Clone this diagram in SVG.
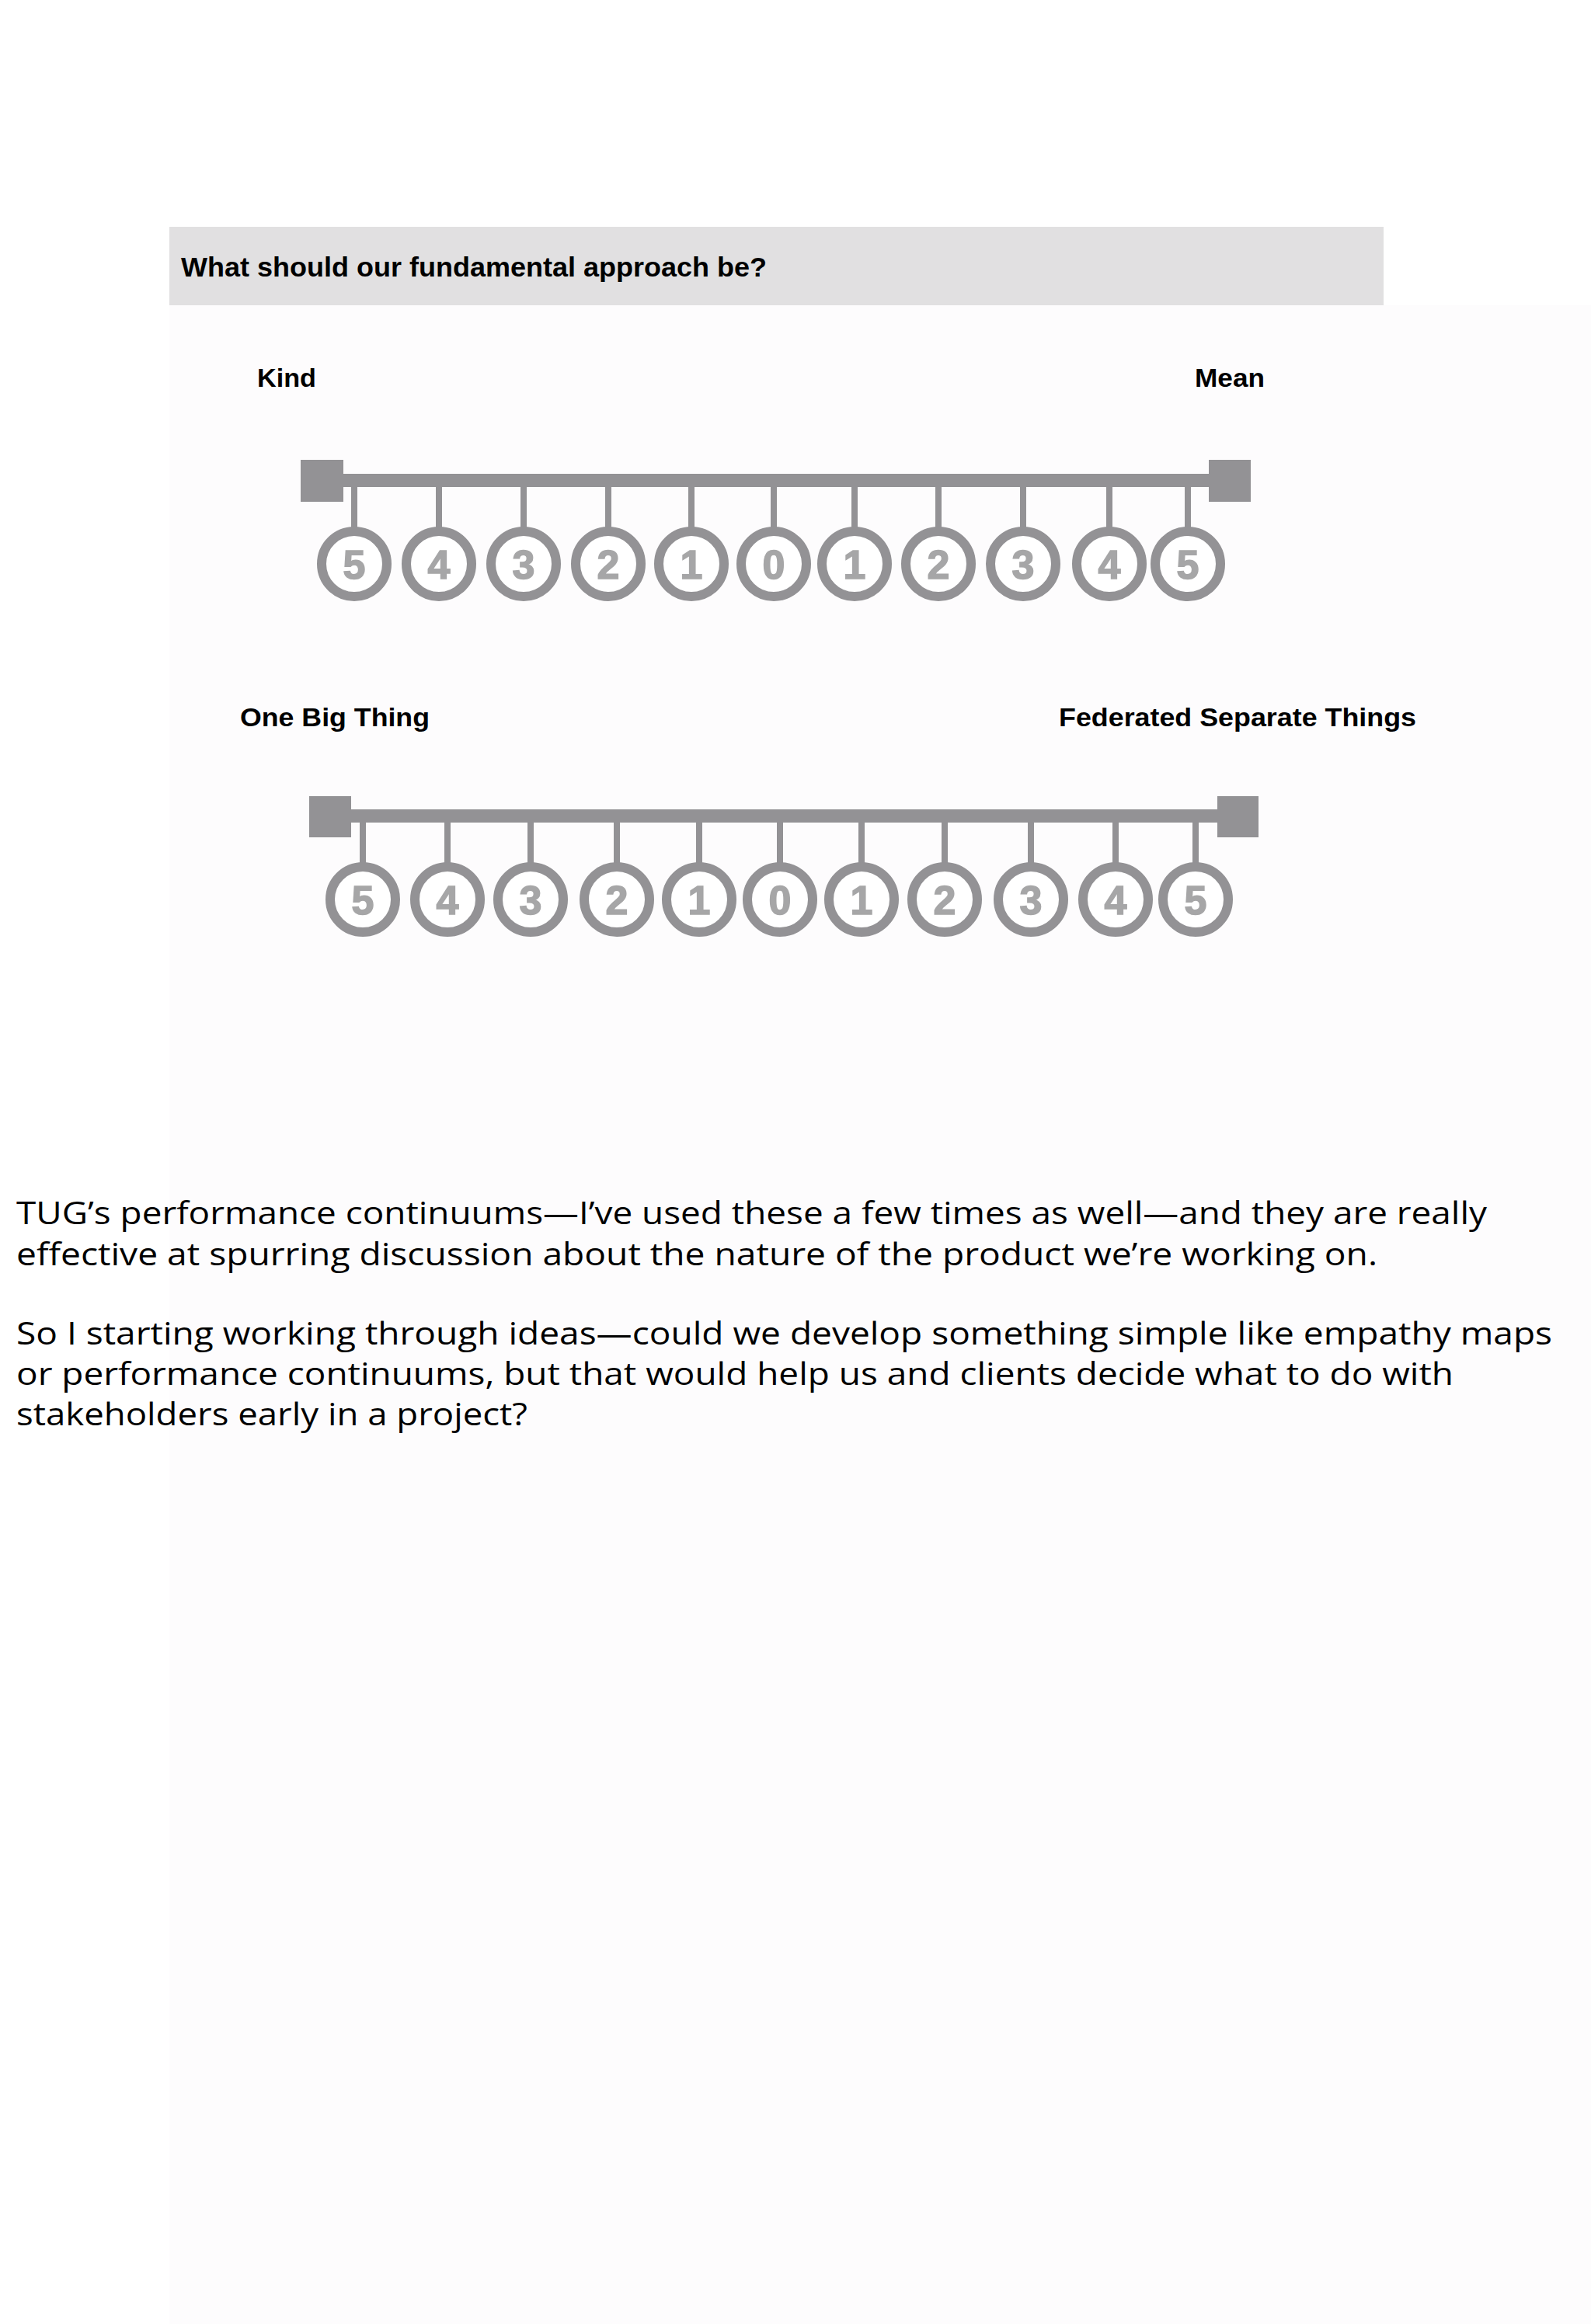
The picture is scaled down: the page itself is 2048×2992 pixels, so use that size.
<svg xmlns="http://www.w3.org/2000/svg" width="2048" height="2992" viewBox="0 0 2048 2992">
<style>
.bg{fill:#ffffff}
.panel{fill:#fdfcfd}
.hbox{fill:#e1e0e1}
.htxt{font-family:"Liberation Sans",Arial,sans-serif;font-weight:bold;font-size:35px;fill:#000}
.lbl{font-family:"Liberation Sans",Arial,sans-serif;font-weight:bold;font-size:34px;fill:#000}
.bar{fill:#939295}
.stem{stroke:#939295;stroke-width:8}
.ring{fill:#ffffff;stroke:#939295;stroke-width:12}
.dig{font-family:"Liberation Sans",Arial,sans-serif;font-weight:bold;font-size:52px;fill:#a6a6a7;stroke:#a6a6a7;stroke-width:1.5;text-anchor:middle}
.para{font-family:"Open Sans","Noto Sans","DejaVu Sans",sans-serif;font-size:40px;fill:#000}
</style>
<rect class="bg" x="0" y="0" width="2048" height="2992"/>
<rect class="panel" x="218" y="393" width="1830" height="2599"/>

<g id="header">
<rect class="hbox" x="218" y="292" width="1563" height="101"/>
<text class="htxt" x="233" y="356" textLength="754" lengthAdjust="spacingAndGlyphs">What should our fundamental approach be?</text>
</g>

<g id="labels1">
<text class="lbl" x="331" y="498" textLength="76" lengthAdjust="spacingAndGlyphs">Kind</text>
<text class="lbl" x="1538" y="498" textLength="90" lengthAdjust="spacingAndGlyphs">Mean</text>
</g>

<g id="continuum1">
<rect class="bar" x="387" y="592" width="55" height="54"/>
<rect class="bar" x="1556" y="592" width="54" height="54"/>
<rect class="bar" x="440" y="610" width="1118" height="17"/>
</g>

<g id="connectors">
<line class="stem" x1="456" y1="626" x2="456" y2="680"/>
<line class="stem" x1="565" y1="626" x2="565" y2="680"/>
<line class="stem" x1="674" y1="626" x2="674" y2="680"/>
<line class="stem" x1="783" y1="626" x2="783" y2="680"/>
<line class="stem" x1="890" y1="626" x2="890" y2="680"/>
<line class="stem" x1="996" y1="626" x2="996" y2="680"/>
<line class="stem" x1="1100" y1="626" x2="1100" y2="680"/>
<line class="stem" x1="1208" y1="626" x2="1208" y2="680"/>
<line class="stem" x1="1317" y1="626" x2="1317" y2="680"/>
<line class="stem" x1="1428" y1="626" x2="1428" y2="680"/>
<line class="stem" x1="1529" y1="626" x2="1529" y2="680"/>
<line class="stem" x1="467" y1="1058" x2="467" y2="1112"/>
<line class="stem" x1="576" y1="1058" x2="576" y2="1112"/>
<line class="stem" x1="683" y1="1058" x2="683" y2="1112"/>
<line class="stem" x1="794" y1="1058" x2="794" y2="1112"/>
<line class="stem" x1="900" y1="1058" x2="900" y2="1112"/>
<line class="stem" x1="1004" y1="1058" x2="1004" y2="1112"/>
<line class="stem" x1="1109" y1="1058" x2="1109" y2="1112"/>
<line class="stem" x1="1216" y1="1058" x2="1216" y2="1112"/>
<line class="stem" x1="1327" y1="1058" x2="1327" y2="1112"/>
<line class="stem" x1="1436" y1="1058" x2="1436" y2="1112"/>
<line class="stem" x1="1539" y1="1058" x2="1539" y2="1112"/>
</g>

<g id="c1-l5"><circle class="ring" cx="456" cy="726" r="42"/><text class="dig" x="456" y="745">5</text></g>
<g id="c1-l4"><circle class="ring" cx="565" cy="726" r="42"/><text class="dig" x="565" y="745">4</text></g>
<g id="c1-l3"><circle class="ring" cx="674" cy="726" r="42"/><text class="dig" x="674" y="745">3</text></g>
<g id="c1-l2"><circle class="ring" cx="783" cy="726" r="42"/><text class="dig" x="783" y="745">2</text></g>
<g id="c1-l1"><circle class="ring" cx="890" cy="726" r="42"/><text class="dig" x="890" y="745">1</text></g>
<g id="c1-0"><circle class="ring" cx="996" cy="726" r="42"/><text class="dig" x="996" y="745">0</text></g>
<g id="c1-r1"><circle class="ring" cx="1100" cy="726" r="42"/><text class="dig" x="1100" y="745">1</text></g>
<g id="c1-r2"><circle class="ring" cx="1208" cy="726" r="42"/><text class="dig" x="1208" y="745">2</text></g>
<g id="c1-r3"><circle class="ring" cx="1317" cy="726" r="42"/><text class="dig" x="1317" y="745">3</text></g>
<g id="c1-r4"><circle class="ring" cx="1428" cy="726" r="42"/><text class="dig" x="1428" y="745">4</text></g>
<g id="c1-r5"><circle class="ring" cx="1529" cy="726" r="42"/><text class="dig" x="1529" y="745">5</text></g>

<g id="labels2">
<text class="lbl" x="309" y="935" textLength="244" lengthAdjust="spacingAndGlyphs">One Big Thing</text>
<text class="lbl" x="1363" y="935" textLength="460" lengthAdjust="spacingAndGlyphs">Federated Separate Things</text>
</g>

<g id="continuum2">
<rect class="bar" x="398" y="1025" width="54" height="53"/>
<rect class="bar" x="1567" y="1025" width="53" height="53"/>
<rect class="bar" x="450" y="1042" width="1119" height="17"/>
</g>

<g id="c2-l5"><circle class="ring" cx="467" cy="1158" r="42"/><text class="dig" x="467" y="1177">5</text></g>
<g id="c2-l4"><circle class="ring" cx="576" cy="1158" r="42"/><text class="dig" x="576" y="1177">4</text></g>
<g id="c2-l3"><circle class="ring" cx="683" cy="1158" r="42"/><text class="dig" x="683" y="1177">3</text></g>
<g id="c2-l2"><circle class="ring" cx="794" cy="1158" r="42"/><text class="dig" x="794" y="1177">2</text></g>
<g id="c2-l1"><circle class="ring" cx="900" cy="1158" r="42"/><text class="dig" x="900" y="1177">1</text></g>
<g id="c2-0"><circle class="ring" cx="1004" cy="1158" r="42"/><text class="dig" x="1004" y="1177">0</text></g>
<g id="c2-r1"><circle class="ring" cx="1109" cy="1158" r="42"/><text class="dig" x="1109" y="1177">1</text></g>
<g id="c2-r2"><circle class="ring" cx="1216" cy="1158" r="42"/><text class="dig" x="1216" y="1177">2</text></g>
<g id="c2-r3"><circle class="ring" cx="1327" cy="1158" r="42"/><text class="dig" x="1327" y="1177">3</text></g>
<g id="c2-r4"><circle class="ring" cx="1436" cy="1158" r="42"/><text class="dig" x="1436" y="1177">4</text></g>
<g id="c2-r5"><circle class="ring" cx="1539" cy="1158" r="42"/><text class="dig" x="1539" y="1177">5</text></g>

<g id="paragraph">
<text class="para" x="21" y="1576" textLength="1893" lengthAdjust="spacingAndGlyphs">TUG’s performance continuums—I’ve used these a few times as well—and they are really</text>
<text class="para" x="21" y="1629" textLength="1752" lengthAdjust="spacingAndGlyphs">effective at spurring discussion about the nature of the product we’re working on.</text>
<text class="para" x="21" y="1731" textLength="1977" lengthAdjust="spacingAndGlyphs">So I starting working through ideas—could we develop something simple like empathy maps</text>
<text class="para" x="21" y="1783" textLength="1850" lengthAdjust="spacingAndGlyphs">or performance continuums, but that would help us and clients decide what to do with</text>
<text class="para" x="21" y="1835" textLength="658" lengthAdjust="spacingAndGlyphs">stakeholders early in a project?</text>
</g>
</svg>
